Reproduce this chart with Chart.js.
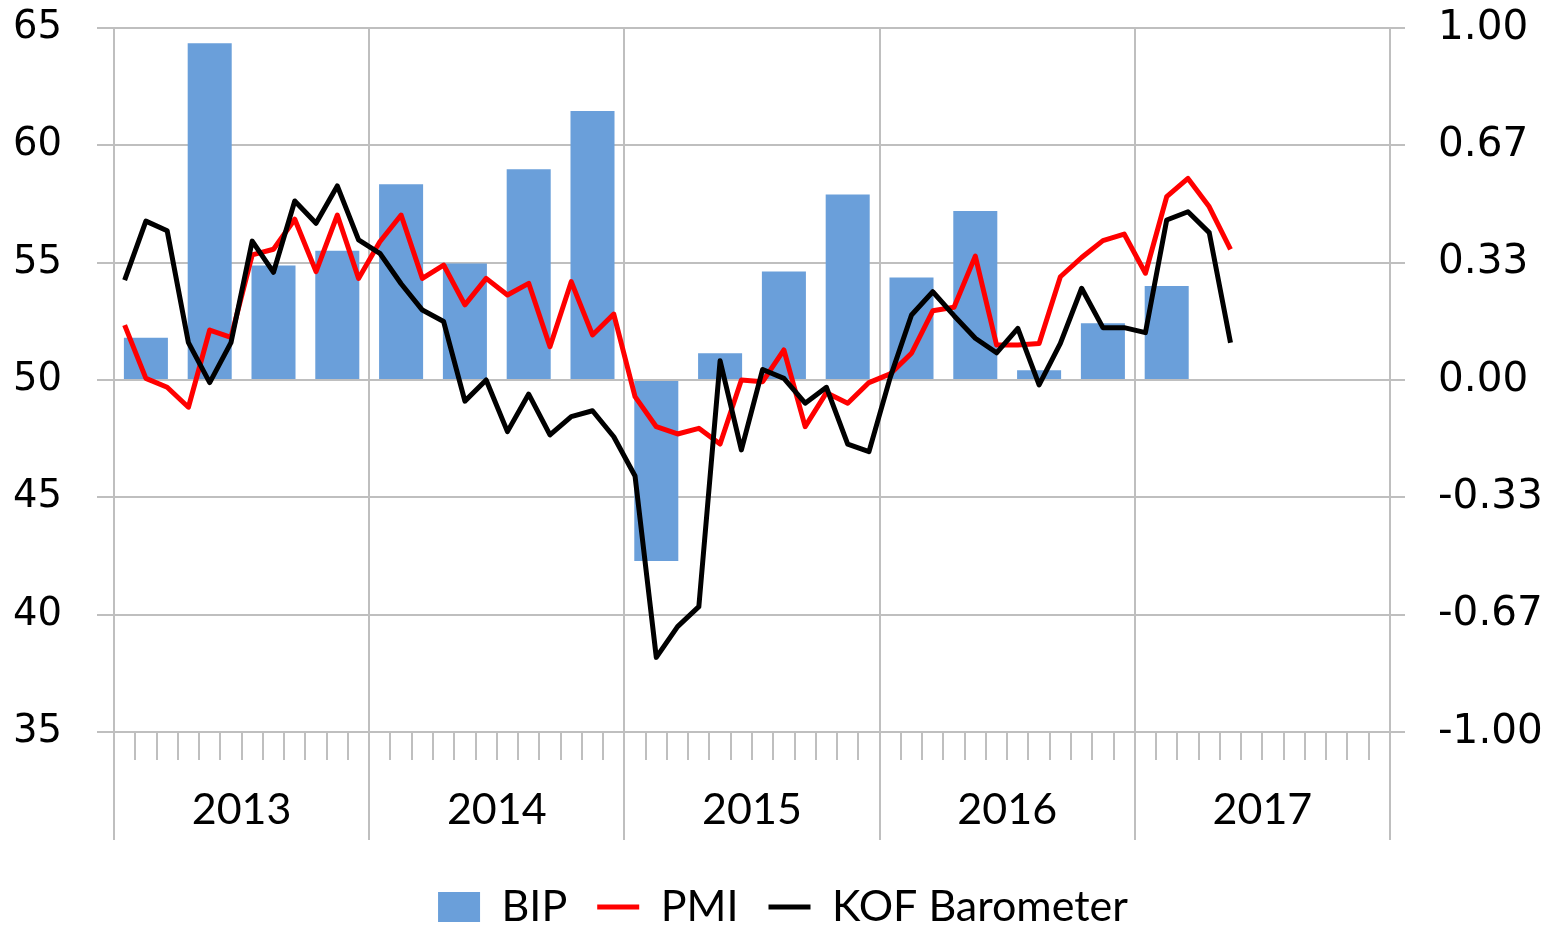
<!DOCTYPE html>
<html>
<head>
<meta charset="utf-8">
<script src="https://cdn.jsdelivr.net/npm/chart.js@4/dist/chart.umd.min.js"></script>
<style>
html,body{margin:0;padding:0;background:#ffffff;}
#wrap{width:1552px;height:926px;}
</style>
</head>
<body>
<div id="wrap"><canvas id="c" width="1552" height="926"></canvas></div>
<script>
// ---- data ----
const months = [
 '2013-01','2013-02','2013-03','2013-04','2013-05','2013-06','2013-07','2013-08','2013-09','2013-10','2013-11','2013-12',
 '2014-01','2014-02','2014-03','2014-04','2014-05','2014-06','2014-07','2014-08','2014-09','2014-10','2014-11','2014-12',
 '2015-01','2015-02','2015-03','2015-04','2015-05','2015-06','2015-07','2015-08','2015-09','2015-10','2015-11','2015-12',
 '2016-01','2016-02','2016-03','2016-04','2016-05','2016-06','2016-07','2016-08','2016-09','2016-10','2016-11','2016-12',
 '2017-01','2017-02','2017-03','2017-04','2017-05','2017-06','2017-07','2017-08','2017-09','2017-10','2017-11','2017-12'
];
const years = ['2013','2014','2015','2016','2017'];
const quarters = [
 '2013Q1','2013Q2','2013Q3','2013Q4','2014Q1','2014Q2','2014Q3','2014Q4',
 '2015Q1','2015Q2','2015Q3','2015Q4','2016Q1','2016Q2','2016Q3','2016Q4',
 '2017Q1','2017Q2','2017Q3','2017Q4'
];
// BIP (quarterly, right axis)
const bip = [0.120, 0.957, 0.325, 0.367, 0.556, 0.331, 0.599, 0.764, -0.514, 0.076, 0.308, 0.527, 0.291, 0.480, 0.028, 0.161, 0.267];
// PMI (monthly, left axis)
const pmi = [52.34, 50.07, 49.69, 48.84, 52.13, 51.82, 55.33, 55.57, 56.85, 54.62, 57.03, 54.33,
             55.89, 57.03, 54.33, 54.90, 53.20, 54.33, 53.62, 54.12, 51.42, 54.19, 51.92, 52.81,
             49.29, 48.01, 47.70, 47.94, 47.27, 50.00, 49.93, 51.28, 48.01, 49.46, 49.01, 49.89,
             50.26, 51.14, 52.95, 53.10, 55.28, 51.49, 51.49, 51.56, 54.40, 55.22, 55.94, 56.22,
             54.55, 57.81, 58.59, 57.38, 55.57];
// KOF Barometer (monthly, left axis)
const kof = [54.26, 56.77, 56.36, 51.59, 49.89, 51.59, 55.92, 54.59, 57.63, 56.68, 58.27, 55.97,
             55.40, 54.10, 52.98, 52.49, 49.10, 50.00, 47.80, 49.40, 47.66, 48.44, 48.69, 47.58,
             45.91, 38.18, 39.49, 40.34, 50.82, 47.02, 50.45, 50.07, 49.01, 49.69, 47.27, 46.95,
             50.11, 52.77, 53.76, 52.74, 51.78, 51.16, 52.20, 49.79, 51.56, 53.91, 52.23, 52.23,
             52.02, 56.82, 57.17, 56.28, 51.59];
const leftTicks = [35, 40, 45, 50, 55, 60, 65];
const rightTicks = [-1, -0.6667, -0.3333, 0, 0.3333, 0.6667, 1];

// ---- styles ----
const GRID = '#bfbfbf';
const leftFont = {family: 'DejaVu Sans', size: 38.5};
const rightFont = {family: 'DejaVu Sans', size: 40.5};
const textFont = {family: 'Lato', size: 43};

new Chart(document.getElementById('c'), {
  type: 'bar',
  data: {
    labels: months,
    datasets: [
      {type: 'bar', label: 'BIP', data: bip, xAxisID: 'xq', yAxisID: 'y1',
       backgroundColor: '#6a9fda', borderWidth: 0, categoryPercentage: 1.0, barPercentage: 0.69,
       grouped: false, order: 3, pointStyle: 'rect'},
      {type: 'line', label: 'PMI', data: pmi, xAxisID: 'x', yAxisID: 'y',
       borderColor: '#ff0000', backgroundColor: '#ff0000', borderWidth: 5, pointRadius: 0,
       tension: 0, borderJoinStyle: 'round', order: 2, pointStyle: 'line'},
      {type: 'line', label: 'KOF Barometer', data: kof, xAxisID: 'x', yAxisID: 'y',
       borderColor: '#000000', backgroundColor: '#000000', borderWidth: 5, pointRadius: 0,
       tension: 0, borderJoinStyle: 'round', order: 1, pointStyle: 'line'}
    ]
  },
  options: {
    responsive: false,
    animation: false,
    devicePixelRatio: 1,
    layout: {padding: {left: 14, right: 0, top: 28, bottom: -12.5}},
    plugins: {
      tooltip: {enabled: false},
      legend: {
        position: 'bottom',
        labels: {
          usePointStyle: true,
          pointStyleWidth: 42,
          boxHeight: 30,
          padding: 30,
          color: '#000000',
          font: textFont,
          sort: (a, b) => a.datasetIndex - b.datasetIndex
        }
      }
    },
    scales: {
      x: {
        type: 'category', position: 'bottom', offset: true, weight: 0,
        grid: {offset: true, drawOnChartArea: false, drawTicks: true, tickLength: 28,
               color: GRID, tickColor: GRID, lineWidth: 2, tickWidth: 2},
        border: {display: false},
        ticks: {display: false},
        afterFit: (s) => { s.height = 28; }
      },
      xy: {
        type: 'category', position: 'bottom', labels: years, offset: true, weight: 1,
        grid: {offset: true, drawOnChartArea: true, drawTicks: true, tickLength: 80,
               color: GRID, tickColor: GRID, lineWidth: 2, tickWidth: 2},
        border: {display: false},
        ticks: {color: '#000000', font: {family: 'Lato', size: 43, lineHeight: 1.2},
                padding: -55.8, maxRotation: 0, autoSkip: false},
        afterFit: (s) => { s.height = 95.5; s.paddingLeft = 0; s.paddingRight = 0; }
      },
      xq: {
        type: 'category', labels: quarters, offset: true, display: false,
        grid: {offset: true}
      },
      y: {
        type: 'linear', position: 'left', min: 35, max: 65,
        afterBuildTicks: (s) => { s.ticks = leftTicks.map(v => ({value: v})); },
        grid: {color: GRID, tickColor: GRID, lineWidth: 2, tickLength: 17, drawTicks: true},
        border: {display: true, color: GRID, width: 2},
        ticks: {color: '#000000', font: leftFont, padding: 35},
        afterFit: (s) => { s.width = 100; s.paddingTop = 0; s.paddingBottom = 0; }
      },
      y1: {
        type: 'linear', position: 'right', min: -1, max: 1,
        afterBuildTicks: (s) => { s.ticks = rightTicks.map(v => ({value: v})); },
        grid: {drawOnChartArea: false, color: GRID, tickColor: GRID, lineWidth: 2, tickLength: 15, drawTicks: true},
        border: {display: true, color: GRID, width: 2},
        ticks: {color: '#000000', font: rightFont, padding: 33,
                callback: (v) => Number(v).toFixed(2)},
        afterFit: (s) => { s.width = 162; s.paddingTop = 0; s.paddingBottom = 0; }
      }
    }
  }
});
</script>
</body>
</html>
